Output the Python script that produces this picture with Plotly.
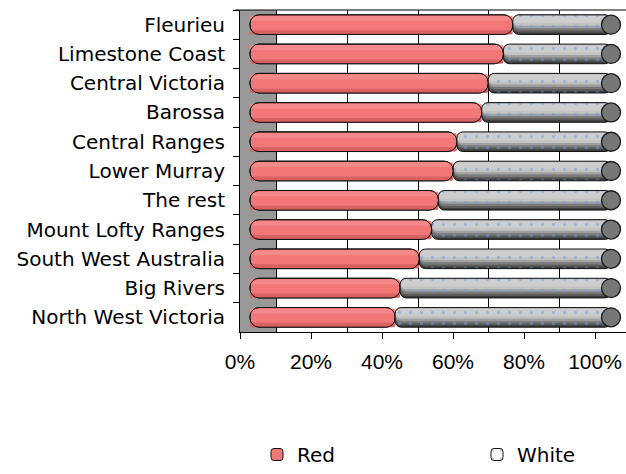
import plotly.graph_objects as go

# ---------------- data ----------------
regions = ["Fleurieu", "Limestone Coast", "Central Victoria", "Barossa",
           "Central Ranges", "Lower Murray", "The rest", "Mount Lofty Ranges",
           "South West Australia", "Big Rivers", "North West Victoria"]
red_share = [72.8, 70.2, 66.0, 64.2, 57.3, 56.3, 52.2, 50.3, 46.9, 41.6, 40.2]
white_share = [27.2, 29.8, 34.0, 35.8, 42.7, 43.7, 47.8, 49.7, 53.1, 58.4, 59.8]
series_names = ["Red", "White"]
x_tick_values = [0, 20, 40, 60, 80, 100]
x_tick_labels = ["0%", "20%", "40%", "60%", "80%", "100%"]

totals = [r + w for r, w in zip(red_share, white_share)]

# ---------------- style ----------------
W, H = 626, 474
ML, MR, MT, MB = 240, 0, 10, 136
PW = W - ML - MR
PH = H - MT - MB
BAR_W = 0.67
LABEL_FONT = "DejaVu Sans"
TICK_FONT = "Liberation Sans"

# 3-D depth offsets (pixels): cylinders sit behind the front axis, grid on back wall
BAR_ZERO_PX, BAR_SCALE = 250.0, 3.61      # cylinder scale
FRONT_ZERO_PX, FRONT_SCALE = 240.0, 3.55  # front (labelled) axis
WALL_ZERO_PX, WALL_SCALE = 276.5, 3.54    # back wall grid


def band(base, size, color, top_frac=0.0, frac=1.0, radius=8, **kw):
    return go.Bar(
        y=regions, x=[-s for s in size], base=base, orientation="h",
        width=BAR_W * frac, offset=-BAR_W / 2 + BAR_W * top_frac,
        xaxis="x", yaxis="y", hoverinfo="skip",
        marker=dict(color=color, cornerradius=radius, line=kw.pop("line", dict(width=0))),
        **kw)


traces = []
# Red cylinder segment (drawn from the red/white boundary back to 0)
traces.append(band(red_share, red_share, "#F27878", radius=9, name=series_names[0],
                   showlegend=True, legend="legend", line=dict(color="#111", width=1)))
traces.append(band(red_share, red_share, "#D86262", top_frac=0.78, frac=0.22, radius=9,
                   showlegend=False))
traces.append(band(red_share, red_share, "#F58888", top_frac=0.05, frac=0.25, radius=9,
                   showlegend=False))
traces.append(band(red_share, red_share, "rgba(0,0,0,0)", radius=9, showlegend=False,
                   line=dict(color="#111", width=1)))

# White cylinder segment (drawn from the total back to the boundary)
for tf, fr, col in [(0.0, 1.0, "#3c3c3c"), (0.0, 0.9, "#5a5a5a"),
                    (0.0, 0.8, "#7a7a7a"), (0.0, 0.68, "#a0a0a0"),
                    (0.0, 0.56, "#c2c2c2"), (0.06, 0.36, "#cdcdcd")]:
    traces.append(band(totals, white_share, col, top_frac=tf, frac=fr, radius=6,
                       showlegend=False))
traces.append(go.Bar(
    y=regions, x=[-s for s in white_share], base=totals, orientation="h",
    width=BAR_W, offset=-BAR_W / 2, xaxis="x", yaxis="y", hoverinfo="skip",
    name=series_names[1], showlegend=True, legend="legend2",
    marker=dict(color="rgba(0,0,0,0)", cornerradius=6,
                line=dict(color="#111", width=1),
                pattern=dict(shape=".", fgcolor="#6e9ee6", bgcolor="rgba(0,0,0,0)",
                             fillmode="overlay", size=11, solidity=0.07))))

# end caps of the cylinders
traces.append(go.Scatter(
    x=totals, y=regions, mode="markers", xaxis="x", yaxis="y", hoverinfo="skip",
    showlegend=False,
    marker=dict(symbol="circle", size=19, color="#777777",
                line=dict(color="#1a1a1a", width=1.3))))

fig = go.Figure(traces)


def px_range(zero_px, scale):
    return [(ML - zero_px) / scale, (ML + PW - zero_px) / scale]


bar_range = px_range(BAR_ZERO_PX, BAR_SCALE)
wall_range = px_range(WALL_ZERO_PX, WALL_SCALE)
# front-axis tick values expressed on the cylinder scale (depth projection)
front_ticks_on_bar_scale = [(FRONT_ZERO_PX + FRONT_SCALE * v - BAR_ZERO_PX) / BAR_SCALE
                            for v in x_tick_values]


def leg(px_left, py_mid):
    return dict(orientation="h", x=(px_left - ML) / PW, xanchor="left",
                y=-(py_mid - (H - MB)) / PH, yanchor="middle",
                bgcolor="rgba(0,0,0,0)", font=dict(family=LABEL_FONT, size=20, color="#000"))


fig.update_layout(
    width=W, height=H, autosize=False,
    margin=dict(l=ML, r=MR, t=MT, b=MB, pad=0),
    paper_bgcolor="white", plot_bgcolor="white",
    barmode="overlay",
    font=dict(family=LABEL_FONT, size=20, color="#000"),
    xaxis=dict(range=bar_range,
               tickmode="array", tickvals=front_ticks_on_bar_scale, ticktext=x_tick_labels,
               ticks="outside", ticklen=6, tickcolor="#000",
               showline=True, linecolor="#000", linewidth=1,
               showgrid=False, zeroline=False, ticklabelstandoff=5,
               tickfont=dict(family=TICK_FONT, size=21, color="#000")),
    xaxis3=dict(overlaying="x", anchor="y", range=wall_range,
                tick0=0, dtick=20, showgrid=True, gridcolor="#000", gridwidth=1,
                showticklabels=False, ticks="", showline=False, zeroline=False),
    yaxis=dict(type="category", categoryorder="array", categoryarray=regions,
               range=[len(regions) - 0.5, -0.5],
               showline=True, linecolor="#000", linewidth=1,
               ticks="outside", tickson="boundaries", ticklen=6, tickcolor="#000",
               showgrid=False, zeroline=False, ticklabelstandoff=10,
               tickfont=dict(family=LABEL_FONT, size=20, color="#000")),
    shapes=[dict(type="rect", xref="x3", yref="paper",
                 x0=wall_range[0], x1=0, y0=0, y1=1,
                 fillcolor="#999999", line=dict(width=0), layer="below"),
            dict(type="line", xref="paper", yref="paper", x0=-0.012, x1=1, y0=1, y1=1,
                 line=dict(color="#000", width=1))],
    legend=leg(257, 463),
    legend2=leg(477, 463),
)

fig.write_html("out.html", config={"displayModeBar": False, "staticPlot": True},
               post_script="document.body.style.margin='0';")
